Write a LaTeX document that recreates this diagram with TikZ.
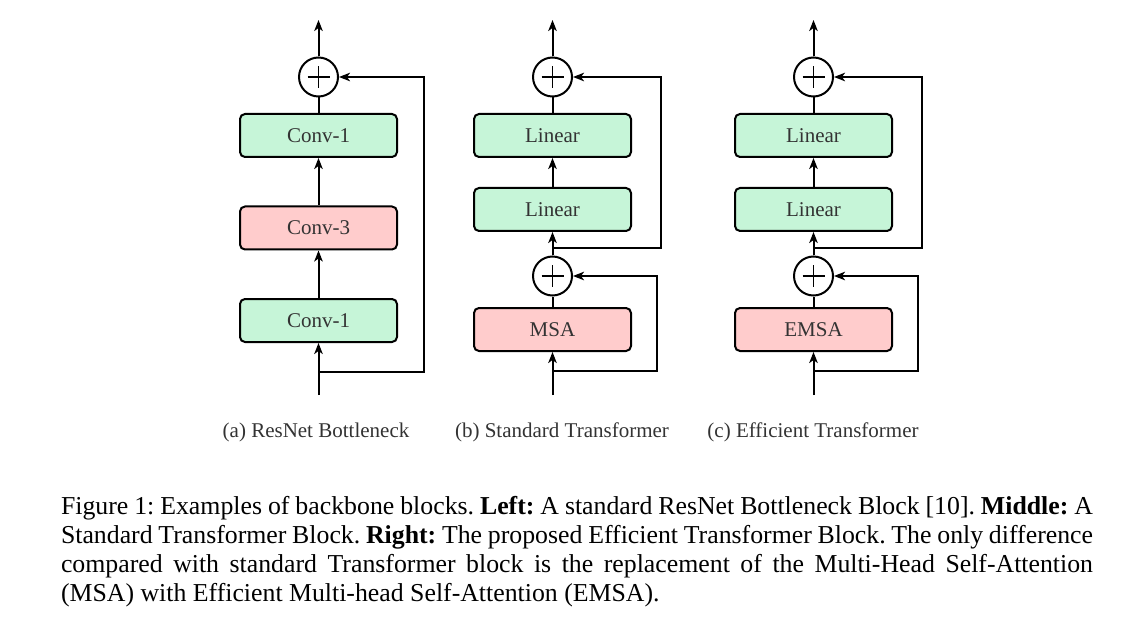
\documentclass[tikz,border=0pt]{standalone}
\usepackage{fontspec}
\setmainfont{Liberation Serif}
\usetikzlibrary{arrows.meta}
\definecolor{boxgreen}{HTML}{C6F5D8}
\definecolor{boxred}{HTML}{FFCCCC}
\definecolor{txtgray}{HTML}{333333}
\begin{document}
\frenchspacing
\begin{tikzpicture}[x=1pt,y=-1pt,
  line width=2pt,
  arr/.style={-{Stealth[length=11pt,width=8.5pt,inset=3pt]}},
  blk/.style={draw,rounded corners=5pt,minimum width=157pt,minimum height=43pt,inner sep=0pt,
    font=\fontsize{21}{25}\selectfont,text=txtgray},
  gblk/.style={blk,fill=boxgreen},
  rblk/.style={blk,fill=boxred},
  plusnode/.style={draw,circle,minimum size=39pt,inner sep=0pt,
    path picture={\draw[line width=1.5pt] ([xshift=-11pt]path picture bounding box.center) -- ([xshift=11pt]path picture bounding box.center);
      \draw[line width=1.5pt] ([yshift=-11pt]path picture bounding box.center) -- ([yshift=11pt]path picture bounding box.center);}},
  sub/.style={font=\fontsize{21}{25}\selectfont,text=txtgray,inner sep=0pt}
]
\useasboundingbox[fill=white] (0,0) rectangle (1140,620);

% ---------- (a) ResNet ----------
\node[gblk] (a1) at (318.5,320.5) {Conv-1};
\node[rblk] (a2) at (318.5,228) {Conv-3};
\node[gblk] (a3) at (318.5,135.5) {Conv-1};
\node[plusnode] (ap) at (318.5,77) {};
\coordinate (ain) at (318.5,395);
\coordinate (aj) at (318.5,372);
\coordinate (aout) at (318.5,20);
\draw[arr] (ain) -- (a1.south);
\draw[arr] (a1.north) -- (a2.south);
\draw[arr] (a2.north) -- (a3.south);
\draw (a3.north) -- (ap.south);
\draw[arr] (ap.north) -- (aout);
\draw[arr] (aj) -- (424,372) -- (424,77) -- (ap.east);

% ---------- (b) Standard Transformer ----------
\node[rblk] (b1) at (552.5,329.5) {MSA};
\node[plusnode] (bp1) at (552.5,276) {};
\node[gblk] (b2) at (552.5,209.5) {Linear};
\node[gblk] (b3) at (552.5,135.5) {Linear};
\node[plusnode] (bp2) at (552.5,77) {};
\coordinate (bin) at (552.5,395);
\coordinate (bj1) at (552.5,371);
\coordinate (bj2) at (552.5,248);
\coordinate (bout) at (552.5,20);
\draw[arr] (bin) -- (b1.south);
\draw (b1.north) -- (bp1.south);
\draw[arr] (bp1.north) -- (b2.south);
\draw[arr] (b2.north) -- (b3.south);
\draw (b3.north) -- (bp2.south);
\draw[arr] (bp2.north) -- (bout);
\draw[arr] (bj1) -- (657,371) -- (657,276) -- (bp1.east);
\draw[arr] (bj2) -- (661,248) -- (661,77) -- (bp2.east);

% ---------- (c) Efficient Transformer ----------
\node[rblk] (c1) at (813.5,329.5) {EMSA};
\node[plusnode] (cp1) at (813.5,276) {};
\node[gblk] (c2) at (813.5,209.5) {Linear};
\node[gblk] (c3) at (813.5,135.5) {Linear};
\node[plusnode] (cp2) at (813.5,77) {};
\coordinate (cin) at (813.5,395);
\coordinate (cj1) at (813.5,371);
\coordinate (cj2) at (813.5,248);
\coordinate (cout) at (813.5,20);
\draw[arr] (cin) -- (c1.south);
\draw (c1.north) -- (cp1.south);
\draw[arr] (cp1.north) -- (c2.south);
\draw[arr] (c2.north) -- (c3.south);
\draw (c3.north) -- (cp2.south);
\draw[arr] (cp2.north) -- (cout);
\draw[arr] (cj1) -- (918,371) -- (918,276) -- (cp1.east);
\draw[arr] (cj2) -- (922,248) -- (922,77) -- (cp2.east);

% ---------- sub-captions ----------
\node[sub,anchor=base] (sa) at (316,437) {(a) ResNet Bottleneck};
\node[sub,anchor=base] (sb) at (562,437) {(b) Standard Transformer};
\node[sub,anchor=base] (sc) at (813,437) {(c) Efficient Transformer};

% ---------- caption ----------
\node[anchor=north west,inner sep=0pt,text width=1032pt,align=justify,
  font=\fontsize{25.8}{29}\selectfont] (cap) at (60,495)
{Figure 1: Examples of backbone blocks. \textbf{Left:} A standard ResNet Bottleneck Block [10]. \textbf{Middle:} A\linebreak
Standard Transformer Block. \textbf{Right:} The proposed Efficient Transformer Block. The only difference\linebreak
compared with standard Transformer block is the replacement of the Multi-Head Self-Attention\linebreak
(MSA) with Efficient Multi-head Self-Attention (EMSA).};
\end{tikzpicture}
\end{document}
